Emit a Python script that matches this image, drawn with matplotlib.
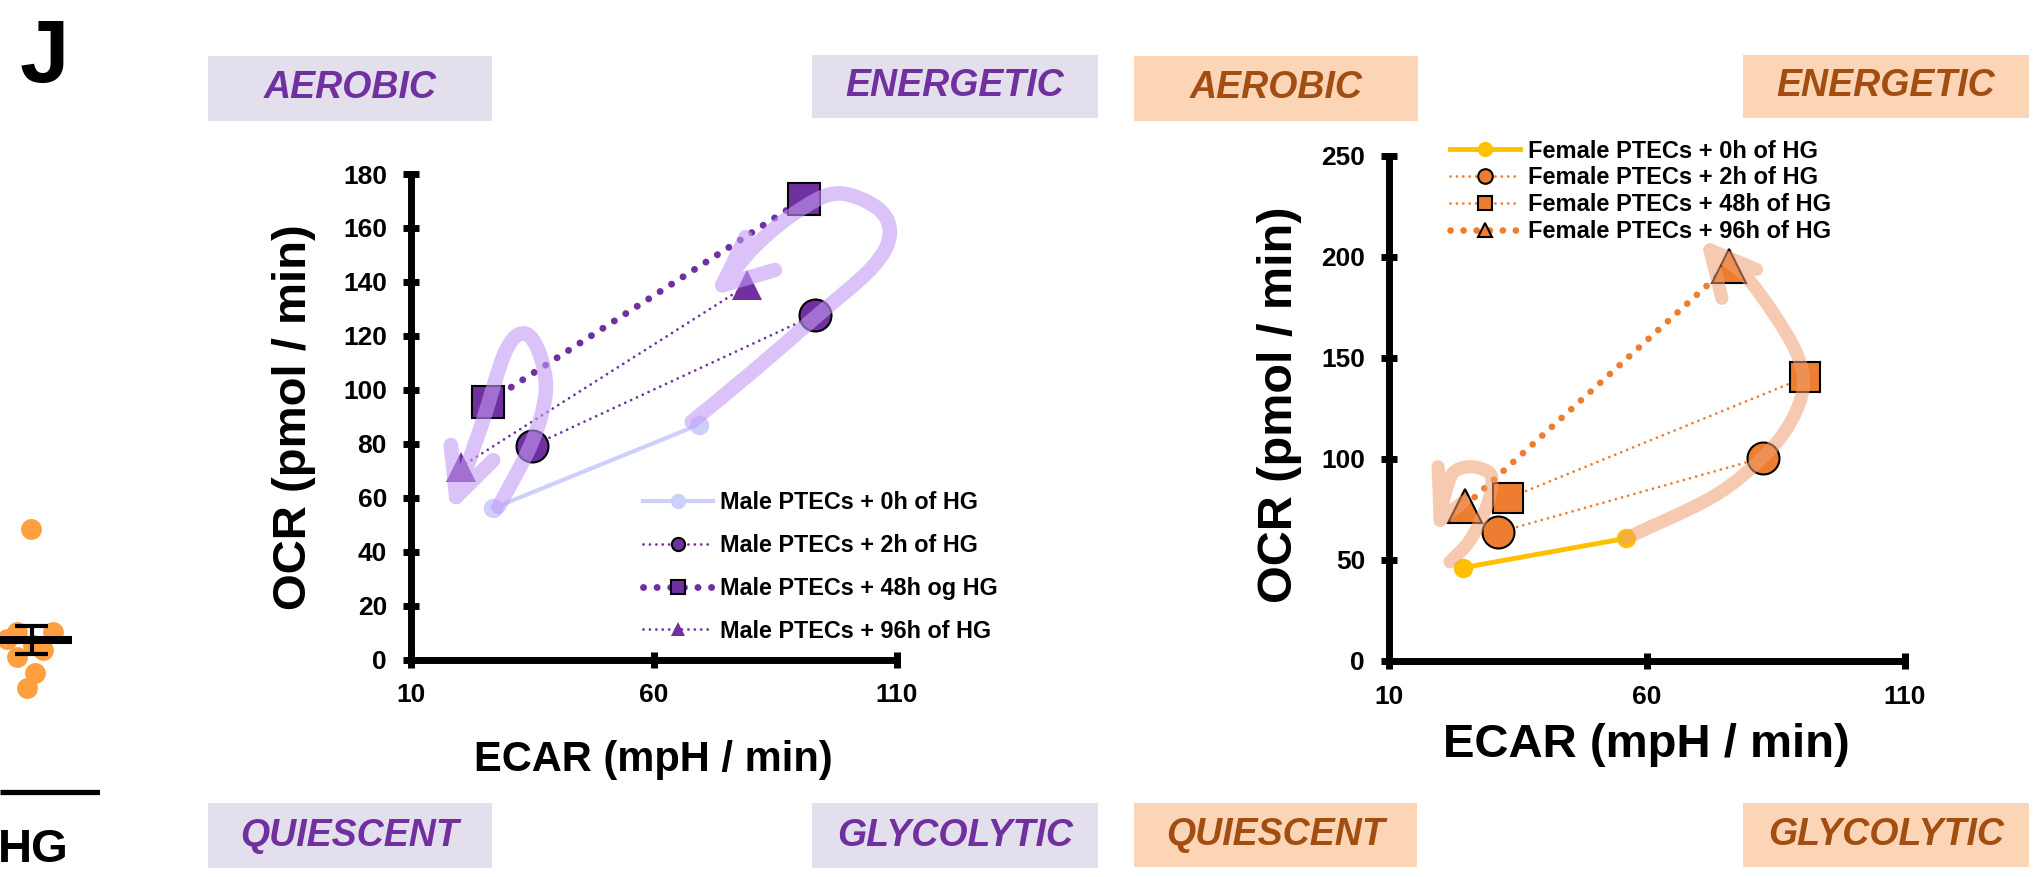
import numpy as np
import matplotlib
matplotlib.use('Agg')
import matplotlib.pyplot as plt
from matplotlib.lines import Line2D
from matplotlib.patches import Rectangle, PathPatch
from matplotlib.path import Path

plt.rcParams['font.family'] = ['Liberation Sans', 'DejaVu Sans']
plt.rcParams['font.weight'] = 'bold'

W, H = 2039, 877   # figure size in pixels (dpi 100)

# Male PTECs: ECAR / OCR per time point
male_labels = ['Male PTECs + 0h of HG', 'Male PTECs + 2h of HG',
               'Male PTECs + 48h og HG', 'Male PTECs + 96h of HG']
male_ecar = [[26.9, 69.2], [35.0, 93.1], [26.0, 90.8], [20.3, 79.2]]
male_ocr = [[56.0, 87.0], [79.2, 127.7], [95.5, 170.6], [71.4, 138.7]]

# Female PTECs
female_labels = ['Female PTECs + 0h of HG', 'Female PTECs + 2h of HG',
                 'Female PTECs + 48h of HG', 'Female PTECs + 96h of HG']
female_ecar = [[24.5, 56.1], [31.3, 82.6], [33.2, 90.7], [24.8, 75.9]]
female_ocr = [[46.2, 60.7], [63.7, 100.6], [80.5, 140.3], [76.7, 195.4]]

# remnant of the neighbouring dot plot (pixel units)
frag_x = [30.7, 16.7, 53.3, 6.7, 43.3, 17.3, 35.0, 26.7, 33.0]
frag_y = [529.3, 631.7, 631.7, 639.3, 650.0, 656.7, 673.3, 687.7, 645.0]

PURPLE = '#7030a0'
LAVENDER = '#cdd0fa'
ORANGE = '#ed7d31'
GOLD = '#ffc000'
thin_dot = (0, (0.01, 2.3))
big_dot = (0, (0.01, 1.95))


def style(color, ls, lw, marker, ms, face, edge, mew):
    return dict(color=color, linestyle=ls, linewidth=lw, marker=marker, markersize=ms,
                markerfacecolor=face, markeredgecolor=edge, markeredgewidth=mew,
                dash_capstyle='round')


male_styles = [
    style(LAVENDER, '-', 3, 'o', 14, LAVENDER, LAVENDER, 0),
    style(PURPLE, thin_dot, 2.0, 'o', 23, PURPLE, 'black', 1.5),
    style(PURPLE, big_dot, 5, 's', 23, PURPLE, 'black', 1.5),
    style(PURPLE, thin_dot, 2.0, '^', 22, PURPLE, PURPLE, 0),
]
male_leg_ms = [11, 9.5, 10.5, 10]

female_styles = [
    style(GOLD, '-', 3.5, 'o', 14, GOLD, GOLD, 0),
    style(ORANGE, thin_dot, 2.0, 'o', 23, ORANGE, 'black', 1.5),
    style(ORANGE, thin_dot, 2.0, 's', 22, ORANGE, 'black', 1.5),
    style(ORANGE, big_dot, 4.8, '^', 24, ORANGE, 'black', 1.5),
]
female_leg_ms = [11, 10.5, 10.5, 10.5]


def fig_box(x0, y0, x1, y1):
    # pixel box (top-left origin) -> figure fraction rect
    return [x0 / W, 1 - y1 / H, (x1 - x0) / W, (y1 - y0) / H]


def smooth_arrow(ax, pts, barbs, color, lw, alpha):
    # Catmull-Rom through the guide points, then an open arrow head at the end
    pts = np.asarray(pts, float)
    n = len(pts)
    verts = [pts[0]]
    codes = [Path.MOVETO]
    for i in range(n - 1):
        p0 = pts[i - 1] if i > 0 else pts[i]
        p1, p2 = pts[i], pts[i + 1]
        p3 = pts[i + 2] if i + 2 < n else pts[i + 1]
        verts += [p1 + (p2 - p0) / 6, p2 - (p3 - p1) / 6, p2]
        codes += [Path.CURVE4] * 3
    verts += [barbs[0], pts[-1], barbs[1]]
    codes += [Path.MOVETO, Path.LINETO, Path.LINETO]
    patch = PathPatch(Path(verts, codes), facecolor='none', edgecolor=color, lw=lw,
                      alpha=alpha, capstyle='round', joinstyle='round', zorder=4)
    ax.add_patch(patch)


def setup_axes(ax, ymax, ystep):
    ax.set_xlim(10, 110)
    ax.set_ylim(0, ymax)
    ax.set_xticks([10, 60, 110])
    ax.set_yticks(np.arange(0, ymax + 1, ystep))
    for side in ['top', 'right']:
        ax.spines[side].set_visible(False)
    for side in ['left', 'bottom']:
        ax.spines[side].set_linewidth(5)
    ax.tick_params(direction='inout', length=12, width=5, pad=11, labelsize=19)
    for lab in ax.get_xticklabels() + ax.get_yticklabels():
        lab.set_fontweight('bold')


def draw_series(ax, ecar, ocr, styles, labels, leg_ms):
    handles = []
    for xs, ys, st, lab, lms in zip(ecar, ocr, styles, labels, leg_ms):
        ax.plot(xs, ys, zorder=3, clip_on=False, **st)
        hst = dict(st)
        hst['markersize'] = lms
        handles.append(Line2D([], [], label=lab, **hst))
    return handles


fig = plt.figure(figsize=(W / 100, H / 100), dpi=100)

# ---- left: male ----
axm = fig.add_axes(fig_box(410.5, 174, 897, 659.5))
setup_axes(axm, 180, 20)
hm = draw_series(axm, male_ecar, male_ocr, male_styles, male_labels, male_leg_ms)
smooth_arrow(axm, [(67.8, 88.1), (80.5, 107.0), (92.9, 126.4), (104.7, 145.0), (108.5, 157.3),
                   (106.1, 167.2), (97.7, 172.8), (89.4, 166.0), (81.0, 153.6), (74.1, 138.8)],
             [(78.9, 156.6), (84.9, 144.4)], '#c39cf5', 10.5, 0.6)
smooth_arrow(axm, [(28.1, 56.6), (35.0, 80.7), (37.8, 99.2), (36.4, 114.1), (33.3, 120.9),
                   (29.5, 114.1), (24.6, 86.9), (19.4, 60.3)],
             [(18.3, 79.5), (27.0, 73.9)], '#c39cf5', 10.5, 0.6)
axm.text(-0.2395, 0.5, 'OCR (pmol / min)', transform=axm.transAxes, rotation=90,
         ha='center', va='center', fontsize=34, fontweight='bold')
axm.text(0.5, -0.207, 'ECAR (mpH / min)', transform=axm.transAxes,
         ha='center', va='center', fontsize=30, fontweight='bold')
legm = axm.legend(handles=hm, loc='upper left', frameon=False, fontsize=16.8,
                  bbox_to_anchor=(643 / W, 1 - 491 / H), bbox_transform=fig.transFigure,
                  borderpad=0, borderaxespad=0, handlelength=3.0, handletextpad=0.3,
                  labelspacing=0.85)
legm.set_zorder(5)

# ---- right: female ----
axf = fig.add_axes(fig_box(1388.6, 155.6, 1904.5, 661))
setup_axes(axf, 250, 50)
hf = draw_series(axf, female_ecar, female_ocr, female_styles, female_labels, female_leg_ms)
smooth_arrow(axf, [(55.9, 60.7), (72.9, 81.3), (82.6, 101.0), (87.8, 117.6), (90.4, 135.7),
                   (89.1, 152.2), (84.6, 171.9), (78.7, 191.7), (72.3, 203.3)],
             [(74.6, 179.4), (81.3, 193.7)], '#f0a070', 9.5, 0.55)
smooth_arrow(axf, [(21.9, 49.1), (25.8, 59.8), (29.0, 76.3), (30.0, 87.9), (29.3, 93.6),
                   (25.8, 96.1), (22.5, 93.0), (20.9, 82.0), (20.0, 69.7)],
             [(19.6, 96.1), (24.5, 78.8)], '#f0a070', 9.5, 0.55)
axf.text(-0.2124, 0.5065, 'OCR (pmol / min)', transform=axf.transAxes, rotation=90,
         ha='center', va='center', fontsize=35, fontweight='bold')
axf.text(0.5, -0.166, 'ECAR (mpH / min)', transform=axf.transAxes,
         ha='center', va='center', fontsize=34, fontweight='bold')
legf = axf.legend(handles=hf, loc='upper left', frameon=False, fontsize=17,
                  bbox_to_anchor=(1449.6 / W, 1 - 139.5 / H), bbox_transform=fig.transFigure,
                  borderpad=0, borderaxespad=0, handlelength=3.0, handletextpad=0.3,
                  labelspacing=0.16)
legf.set_zorder(5)

# ---- quadrant captions ----
male_quads = [(208, 56, 492, 121, 'AEROBIC'), (812, 55, 1098, 118, 'ENERGETIC'),
              (208, 803, 492, 868, 'QUIESCENT'), (812, 803, 1098, 868, 'GLYCOLYTIC')]
female_quads = [(1134, 56, 1418, 121, 'AEROBIC'), (1743, 55, 2029, 118, 'ENERGETIC'),
                (1134, 803, 1417, 867, 'QUIESCENT'), (1743, 803, 2029, 867, 'GLYCOLYTIC')]
for quads, bg, fg in [(male_quads, '#e4dfec', PURPLE), (female_quads, '#fbd5b5', '#a34e11')]:
    for x0, y0, x1, y1, word in quads:
        r = fig_box(x0, y0, x1, y1)
        fig.add_artist(Rectangle((r[0], r[1]), r[2], r[3], transform=fig.transFigure,
                                 facecolor=bg, edgecolor='none'))
        fig.text((x0 + x1) / 2 / W, 1 - (y0 + y1) / 2 / H, word, ha='center', va='center',
                 fontsize=27, fontweight='bold', style='italic', color=fg)

# ---- panel letter and cut-off neighbour panel ----
fig.text(20 / W, 1 - 82 / H, 'J', fontsize=64, fontweight='bold', va='baseline', ha='left')

frag = fig.add_axes([0, 0, 100 / W, 1])
frag.set_xlim(0, 100)
frag.set_ylim(H, 0)
frag.axis('off')
frag.plot(frag_x, frag_y, 'o', color='#ffa040', markersize=15, markeredgewidth=0, clip_on=False)
frag.plot([0, 72], [640, 640], color='black', lw=5.8, solid_capstyle='butt')
frag.plot([31.7, 31.7], [626, 654], color='black', lw=3, solid_capstyle='butt')
frag.plot([15, 48], [626, 626], color='black', lw=3, solid_capstyle='butt')
frag.plot([15, 48], [654, 654], color='black', lw=3, solid_capstyle='butt')
frag.plot([0, 100], [791.7, 791.7], color='black', lw=3.8, solid_capstyle='butt')
fig.text(69 / W, 1 - 862 / H, 'HG', fontsize=34, fontweight='bold', ha='right', va='baseline')

fig.savefig('out.png', dpi=100)
